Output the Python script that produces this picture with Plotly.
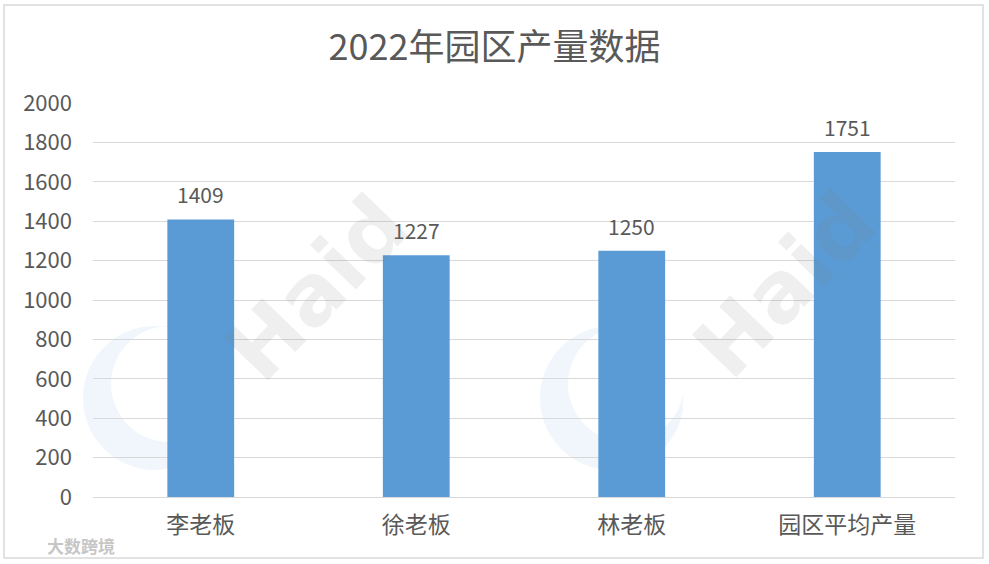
import numpy as np
import plotly.graph_objects as go

categories = ["李老板", "徐老板", "林老板", "园区平均产量"]
values = [1409, 1227, 1250, 1751]
y_ticks = [0, 200, 400, 600, 800, 1000, 1200, 1400, 1600, 1800, 2000]
title_text = "2022年园区产量数据"

FONT = "Noto Sans CJK SC"
GRAY = "#595959"
W, H = 989, 564
ML, MR, MT, MB = 93, 34, 103, 67
PW, PH = W - ML - MR, H - MT - MB


def px2paper(x, y):
    return (x - ML) / PW, (H - MB - y) / PH


fig = go.Figure()

# faint crescent watermark logos (decoration)
for cx, cy in [(155, 398), (612, 398)]:
    th1 = np.radians(np.linspace(80, 350, 60))
    th2 = th1[::-1]
    xs = list(cx + 72 * np.cos(th1)) + list(cx + 14 + 58 * np.cos(th2))
    ys = list(cy - 72 * np.sin(th1)) + list(cy - 14 - 58 * np.sin(th2))
    pts = [px2paper(a, b) for a, b in zip(xs, ys)]
    path = "M " + " L ".join(f"{a:.4f},{b:.4f}" for a, b in pts) + " Z"
    fig.add_shape(type="path", xref="paper", yref="paper", path=path,
                  fillcolor="rgba(91,155,213,0.09)", line=dict(width=0), layer="below")

fig.add_trace(go.Bar(
    x=categories, y=values,
    marker=dict(color="#5B9BD5", line=dict(width=0)),
    width=0.31, hoverinfo="x+y",
))

for c, v in zip(categories, values):
    fig.add_annotation(x=c, y=v, text=str(v), showarrow=False, yshift=25,
                       font=dict(family=FONT, size=21, color=GRAY))

# "Haid" watermarks
for (wx, wy) in [(317, 288), (785, 285)]:
    ax, ay = px2paper(wx, wy)
    fig.add_annotation(x=ax, y=ay, xref="paper", yref="paper", text="<b>Haid</b>",
                       showarrow=False, textangle=-46, xanchor="center", yanchor="middle",
                       font=dict(family="DejaVu Sans", size=84, color="rgba(120,120,120,0.12)"))

lx, ly = px2paper(45, 545)
fig.add_annotation(x=lx, y=ly, xref="paper", yref="paper", text="<b>大数跨境</b>",
                   showarrow=False, xanchor="left", yanchor="middle",
                   font=dict(family=FONT, size=17, color="rgba(190,190,190,0.9)"))

# outer chart border
bx0, by0 = px2paper(4, 558)
bx1, by1 = px2paper(983, 5)
fig.add_shape(type="rect", xref="paper", yref="paper",
              x0=bx0, x1=bx1, y0=by0, y1=by1,
              line=dict(color="#D9D9D9", width=1.5), fillcolor="rgba(0,0,0,0)", layer="below")

fig.update_layout(
    width=W, height=H,
    margin=dict(l=ML, r=MR, t=MT, b=MB),
    paper_bgcolor="white", plot_bgcolor="white",
    title=dict(text=title_text, x=0.5, xanchor="center", y=1 - 47 / H, yanchor="middle",
               font=dict(family=FONT, size=36, color=GRAY)),
    showlegend=False,
    bargap=0.69,
    xaxis=dict(showgrid=False, showline=False, ticks="", zeroline=False,
               ticklabelstandoff=12,
               tickfont=dict(family=FONT, size=23, color=GRAY)),
    yaxis=dict(range=[0, 2000], tickvals=y_ticks, showgrid=True, gridcolor="#D9D9D9",
               gridwidth=1, zeroline=True, zerolinecolor="#D9D9D9", zerolinewidth=1,
               showline=False, ticks="", ticklabelstandoff=20,
               tickfont=dict(family=FONT, size=22, color=GRAY)),
)

fig.write_html("out.html", config={"displayModeBar": False},
               post_script="document.body.style.margin='0';")
